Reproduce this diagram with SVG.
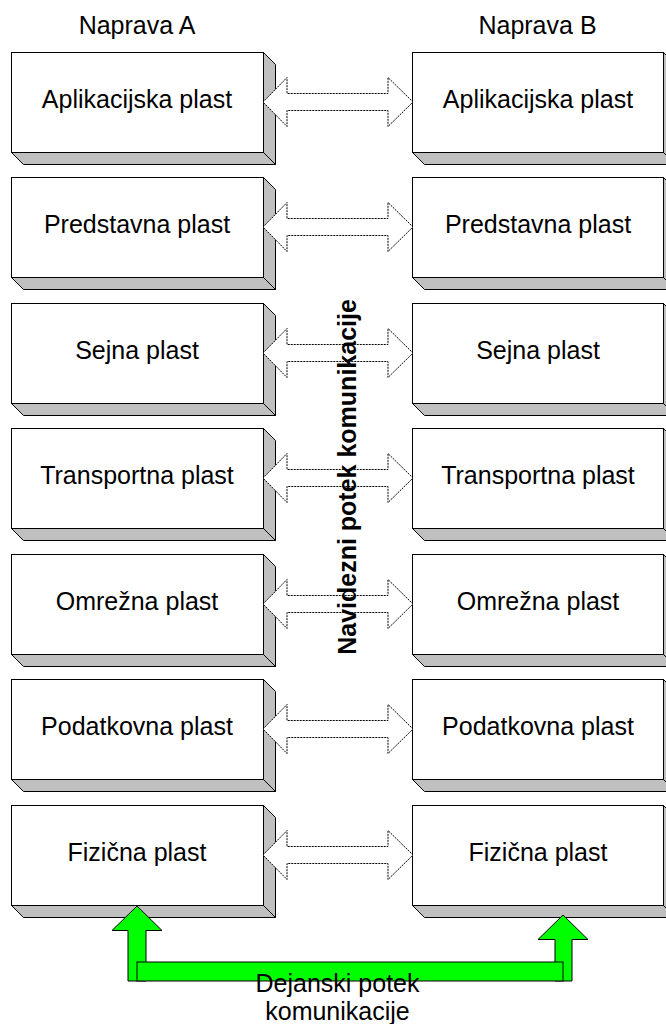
<svg xmlns="http://www.w3.org/2000/svg" width="666" height="1024" viewBox="0 0 666 1024">
  <style>
    .front { fill: #ffffff; stroke: #000000; stroke-width: 1; }
    .shade { fill: #c0c0c0; stroke: #000000; stroke-width: 1; stroke-linejoin: miter; }
    .lbl { font-family: "Liberation Sans", Arial, sans-serif; font-size: 25px; fill: #000000; text-anchor: middle; }
    .vlink { fill: #ffffff; stroke: #000000; stroke-width: 1; stroke-dasharray: 2 1; }
    .real { fill: #00ff00; stroke: #000000; stroke-width: 1; }
  </style>
  <defs>
    <!-- one OSI layer block: front face plus bevelled side and bottom -->
    <g id="blockL">
      <polygon class="shade" points="263.5,0.5 275.5,12.5 275.5,112.5 263.5,100.5"/>
      <polygon class="shade" points="11.5,100.5 263.5,100.5 275.5,112.5 23.5,112.5"/>
      <rect class="front" x="11.5" y="0.5" width="252" height="100"/>
    </g>
    <g id="blockR">
      <polygon class="shade" points="663.5,0.5 675.5,12.5 675.5,112.5 663.5,100.5"/>
      <polygon class="shade" points="412.5,100.5 663.5,100.5 675.5,112.5 424.5,112.5"/>
      <rect class="front" x="412.5" y="0.5" width="251" height="100"/>
    </g>
    <!-- double-headed hollow arrow, centred on y=0 -->
    <polygon id="peer" class="vlink" points="263,0 287,-24.5 287,-8.5 388,-8.5 388,-24.5 413,0 388,24.5 388,8.5 287,8.5 287,24.5"/>
  </defs>

  <text class="lbl" x="137" y="34">Naprava A</text>
  <text class="lbl" x="537.5" y="34">Naprava B</text>

  <!-- device A stack -->
  <g id="a-aplikacijska" transform="translate(0,52)"><use href="#blockL"/><text class="lbl" x="137" y="56">Aplikacijska plast</text></g>
  <g id="a-predstavna" transform="translate(0,177)"><use href="#blockL"/><text class="lbl" x="137" y="56">Predstavna plast</text></g>
  <g id="a-sejna" transform="translate(0,303)"><use href="#blockL"/><text class="lbl" x="137" y="56">Sejna plast</text></g>
  <g id="a-transportna" transform="translate(0,428)"><use href="#blockL"/><text class="lbl" x="137" y="56">Transportna plast</text></g>
  <g id="a-omrezna" transform="translate(0,554)"><use href="#blockL"/><text class="lbl" x="137" y="56">Omrežna plast</text></g>
  <g id="a-podatkovna" transform="translate(0,679)"><use href="#blockL"/><text class="lbl" x="137" y="56">Podatkovna plast</text></g>
  <g id="a-fizicna" transform="translate(0,805)"><use href="#blockL"/><text class="lbl" x="137" y="56">Fizična plast</text></g>

  <!-- device B stack -->
  <g id="b-aplikacijska" transform="translate(0,52)"><use href="#blockR"/><text class="lbl" x="538" y="56">Aplikacijska plast</text></g>
  <g id="b-predstavna" transform="translate(0,177)"><use href="#blockR"/><text class="lbl" x="538" y="56">Predstavna plast</text></g>
  <g id="b-sejna" transform="translate(0,303)"><use href="#blockR"/><text class="lbl" x="538" y="56">Sejna plast</text></g>
  <g id="b-transportna" transform="translate(0,428)"><use href="#blockR"/><text class="lbl" x="538" y="56">Transportna plast</text></g>
  <g id="b-omrezna" transform="translate(0,554)"><use href="#blockR"/><text class="lbl" x="538" y="56">Omrežna plast</text></g>
  <g id="b-podatkovna" transform="translate(0,679)"><use href="#blockR"/><text class="lbl" x="538" y="56">Podatkovna plast</text></g>
  <g id="b-fizicna" transform="translate(0,805)"><use href="#blockR"/><text class="lbl" x="538" y="56">Fizična plast</text></g>

  <g id="connectors">
    <!-- virtual peer-to-peer links -->
    <use href="#peer" y="102"/>
    <use href="#peer" y="227"/>
    <use href="#peer" y="353"/>
    <use href="#peer" y="478"/>
    <use href="#peer" y="604"/>
    <use href="#peer" y="729"/>
    <use href="#peer" y="855"/>
    <text class="lbl" font-weight="bold" transform="translate(356,477) rotate(-90)">Navidezni potek komunikacije</text>

    <!-- physical path through the medium -->
    <polygon class="real" points="137,906 162,930.5 146,930.5 146,981 128,981 128,930.5 112,930.5"/>
    <polygon class="real" points="563,915 588,939.5 572,939.5 572,981 555,981 555,939.5 538,939.5"/>
    <rect class="real" x="137" y="962" width="426" height="19"/>
    <text class="lbl" x="337.5" y="992">Dejanski potek</text>
    <text class="lbl" x="337.5" y="1020">komunikacije</text>
  </g>
</svg>
